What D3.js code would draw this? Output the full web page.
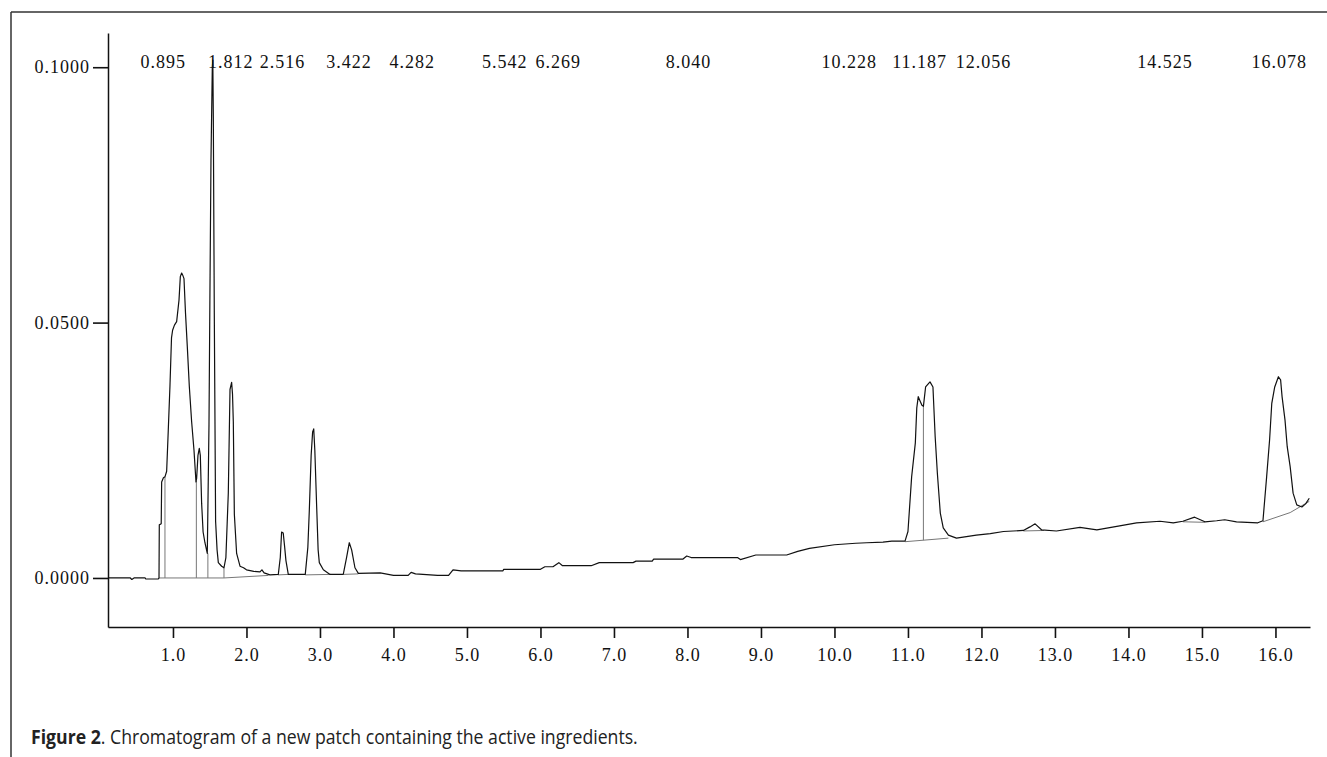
<!DOCTYPE html>
<html>
<head>
<meta charset="utf-8">
<script src="https://cdn.jsdelivr.net/npm/d3@7"></script>
<style>
    body { margin: 0; background: #fff; }
    svg { display: block; }
</style>
</head>
<body>
<svg id="chart" width="1327" height="757"></svg>
<script>
// retention times printed along the top
var peakTimes = [0.895, 1.812, 2.516, 3.422, 4.282, 5.542, 6.269, 8.040, 10.228, 11.187, 12.056, 14.525, 16.078];

var xTicks = [1, 2, 3, 4, 5, 6, 7, 8, 9, 10, 11, 12, 13, 14, 15, 16];
var yTicks = [0, 0.05, 0.1];

// detector trace, [minutes, AU]
var trace = [
    [0.12, 0.0000], [0.42, 0.0000], [0.44, -0.0003], [0.47, 0.0000], [0.62, 0.0000], [0.63, -0.0002], [0.80, -0.0002],
    [0.81, 0.0000], [0.814, 0.0104], [0.84, 0.0106], [0.846, 0.0188], [0.87, 0.0196], [0.891, 0.0198], [0.914, 0.0209],
    [0.936, 0.0289], [0.959, 0.0376], [0.98, 0.0470], [0.995, 0.0485], [1.02, 0.0495], [1.05, 0.0502], [1.082, 0.0544],
    [1.10, 0.0590], [1.118, 0.0597], [1.135, 0.0592], [1.15, 0.0586], [1.17, 0.0520], [1.195, 0.0453], [1.222, 0.0376],
    [1.254, 0.0306], [1.286, 0.0250], [1.313, 0.0188], [1.322, 0.0195], [1.34, 0.0240], [1.358, 0.0254], [1.372, 0.0240],
    [1.39, 0.0146], [1.41, 0.0090], [1.435, 0.0069], [1.467, 0.0048], [1.49, 0.0300], [1.503, 0.0560], [1.517, 0.0817],
    [1.535, 0.0998], [1.542, 0.1014], [1.549, 0.0900], [1.562, 0.0523], [1.58, 0.0111], [1.60, 0.0055], [1.617, 0.0030],
    [1.662, 0.0023], [1.694, 0.0020], [1.72, 0.0040], [1.753, 0.0167], [1.776, 0.0369], [1.798, 0.0383], [1.81, 0.0360],
    [1.821, 0.0306], [1.835, 0.0125], [1.866, 0.0048], [1.912, 0.0023], [1.96, 0.0020], [2.00, 0.0016], [2.10, 0.0013],
    [2.184, 0.0012], [2.21, 0.0016], [2.24, 0.0010], [2.32, 0.0006], [2.433, 0.0007],
    [2.46, 0.0040], [2.478, 0.0090], [2.50, 0.0088], [2.52, 0.0060], [2.537, 0.0034], [2.569, 0.0007], [2.80, 0.0007],
    [2.835, 0.0060], [2.855, 0.0132], [2.88, 0.0240], [2.90, 0.0286], [2.915, 0.0292], [2.93, 0.0250], [2.955, 0.0140],
    [2.975, 0.0055], [2.991, 0.0030], [3.046, 0.0016], [3.137, 0.0007], [3.317, 0.0007],
    [3.363, 0.0041], [3.399, 0.0069], [3.431, 0.0055], [3.476, 0.0020], [3.522, 0.0009],
    [3.82, 0.0010], [4.00, 0.0005], [4.20, 0.0005], [4.24, 0.0011], [4.30, 0.0008], [4.60, 0.0005], [4.75, 0.0005],
    [4.81, 0.0016], [4.92, 0.0014], [5.49, 0.0014], [5.50, 0.0017], [6.00, 0.0017], [6.06, 0.0022], [6.17, 0.0022],
    [6.25, 0.0030], [6.30, 0.0024], [6.69, 0.0024], [6.80, 0.0030], [7.26, 0.0030], [7.30, 0.0033], [7.52, 0.0033],
    [7.54, 0.0037], [7.94, 0.0037], [7.99, 0.0043], [8.05, 0.0040], [8.68, 0.0040], [8.72, 0.0036], [8.93, 0.0045],
    [9.35, 0.0045], [9.50, 0.0052], [9.66, 0.0058], [10.00, 0.0065], [10.29, 0.0068], [10.44, 0.0069], [10.66, 0.0070],
    [10.78, 0.0072], [10.96, 0.0072],
    [11.00, 0.0091], [11.05, 0.0198], [11.10, 0.0264], [11.12, 0.0333], [11.14, 0.0355], [11.16, 0.0348], [11.19, 0.0338],
    [11.21, 0.0336], [11.24, 0.0374], [11.30, 0.0384], [11.34, 0.0374], [11.37, 0.0277], [11.40, 0.0205], [11.44, 0.0127],
    [11.48, 0.0098], [11.55, 0.0084], [11.66, 0.0078], [11.93, 0.0084], [12.12, 0.0087], [12.30, 0.0091], [12.57, 0.0093],
    [12.66, 0.0100], [12.73, 0.0106], [12.82, 0.0094], [13.02, 0.0092], [13.34, 0.0099], [13.57, 0.0094], [13.88, 0.0102],
    [14.11, 0.0108], [14.43, 0.0111], [14.61, 0.0108], [14.74, 0.0111], [14.90, 0.0119], [15.04, 0.0110], [15.20, 0.0112],
    [15.31, 0.0114], [15.47, 0.0110], [15.76, 0.0108], [15.83, 0.0112],
    [15.88, 0.0198], [15.92, 0.0270], [15.95, 0.0342], [15.99, 0.0374], [16.04, 0.0394], [16.07, 0.0388], [16.09, 0.0355],
    [16.13, 0.0309], [16.16, 0.0257], [16.20, 0.0218], [16.24, 0.0166], [16.29, 0.0143], [16.36, 0.0139], [16.41, 0.0145],
    [16.46, 0.0156]
];

// integration baselines drawn under the peaks
var baselineSegs = [
    [[0.81, 0.0000], [1.694, 0.0000], [2.30, 0.0005]],
    [[2.43, 0.0006], [2.57, 0.0007]],
    [[2.80, 0.0006], [3.14, 0.0007]],
    [[3.32, 0.0007], [3.52, 0.0008]],
    [[10.96, 0.0071], [11.55, 0.0078]],
    [[12.57, 0.0092], [12.85, 0.0093]],
    [[14.74, 0.0110], [15.04, 0.0109]],
    [[15.83, 0.0110], [16.20, 0.0128], [16.46, 0.0150]]
];

// peak split lines: [time, bottom, top]
var dropLines = [
    [0.891, 0.0000, 0.0198],
    [1.318, 0.0000, 0.0190],
    [1.475, 0.0000, 0.0048],
    [1.694, 0.0000, 0.0020],
    [11.21, 0.0074, 0.0336]
];

var svg, plot;
var x, y;

function drawFrame() {
    svg.append("line")
        .attr("x1", 11).attr("y1", 12)
        .attr("x2", 1327).attr("y2", 12)
        .attr("stroke", "#333").attr("stroke-width", 1.5);
    svg.append("line")
        .attr("x1", 11).attr("y1", 12)
        .attr("x2", 11).attr("y2", 757)
        .attr("stroke", "#333").attr("stroke-width", 1.5);
}

function drawAxes() {
    var xAxis = d3.axisBottom(x)
        .tickValues(xTicks)
        .tickFormat(d3.format(".1f"))
        .tickSizeInner(11)
        .tickSizeOuter(0)
        .tickPadding(6);

    var yAxis = d3.axisLeft(y)
        .tickValues(yTicks)
        .tickFormat(d3.format(".4f"))
        .tickSizeInner(15)
        .tickSizeOuter(0)
        .tickPadding(3);

    var gx = svg.append("g")
        .attr("class", "x-axis")
        .attr("transform", "translate(0," + y.range()[0] + ")")
        .call(xAxis);

    var gy = svg.append("g")
        .attr("class", "y-axis")
        .attr("transform", "translate(" + x.range()[0] + ",0)")
        .call(yAxis);

    [gx, gy].forEach(function (g) {
        g.select(".domain").attr("stroke", "#111").attr("stroke-width", 1.5);
        g.selectAll(".tick line").attr("stroke", "#111").attr("stroke-width", 1.6);
        g.selectAll(".tick text")
            .attr("fill", "#111")
            .style("font-family", "'Liberation Serif', 'DejaVu Serif', serif")
            .style("font-size", "18px")
            .style("letter-spacing", "1px");
    });
    gx.selectAll(".tick text").attr("dy", "0.95em");
}

function drawTrace() {
    var line = d3.line()
        .x(function (d) { return x(d[0]); })
        .y(function (d) { return y(d[1]); });

    plot.selectAll(".baseline")
        .data(baselineSegs)
        .enter().append("path")
        .attr("class", "baseline")
        .attr("d", line)
        .attr("fill", "none")
        .attr("stroke", "#777")
        .attr("stroke-width", 1);

    plot.selectAll(".drop")
        .data(dropLines)
        .enter().append("line")
        .attr("class", "drop")
        .attr("x1", function (d) { return x(d[0]); })
        .attr("x2", function (d) { return x(d[0]); })
        .attr("y1", function (d) { return y(d[1]); })
        .attr("y2", function (d) { return y(d[2]); })
        .attr("stroke", "#777")
        .attr("stroke-width", 1);

    plot.append("path")
        .datum(trace)
        .attr("class", "trace")
        .attr("d", line)
        .attr("fill", "none")
        .attr("stroke", "#111")
        .attr("stroke-width", 1.2)
        .attr("stroke-linejoin", "round");
}

function drawPeakLabels() {
    svg.selectAll(".rt")
        .data(peakTimes)
        .enter().append("text")
        .attr("class", "rt")
        .attr("x", function (d) { return x(d) - 2; })
        .attr("y", 68)
        .attr("text-anchor", "middle")
        .attr("fill", "#111")
        .style("font-family", "'Liberation Serif', 'DejaVu Serif', serif")
        .style("font-size", "18px")
        .style("letter-spacing", "1px")
        .text(function (d) { return d3.format(".3f")(d); });
}

function drawCaption() {
    // one text, squeezed sideways to the condensed width of the original
    var capWidth = 607;
    var g = svg.append("g");
    var cap = g.append("text")
        .attr("x", 0)
        .attr("y", 0)
        .attr("fill", "#222")
        .style("font-family", "'Open Sans', 'Noto Sans', sans-serif")
        .style("font-size", "20px");
    cap.append("tspan").style("font-weight", "bold").text("Figure 2");
    cap.append("tspan").text(". Chromatogram of a new patch containing the active ingredients.");

    var natural = cap.node().getComputedTextLength();
    g.attr("transform", "translate(31,744) scale(" + (capWidth / natural) + ",1)");
}

svg = d3.select("#chart");

x = d3.scaleLinear().domain([0.116, 16.47]).range([108, 1310]);
y = d3.scaleLinear().domain([-0.0096, 0.1067]).range([627, 33]);

plot = svg.append("g").attr("class", "plot");

drawFrame();
drawTrace();
drawAxes();
drawPeakLabels();
drawCaption();
</script>
</body>
</html>
